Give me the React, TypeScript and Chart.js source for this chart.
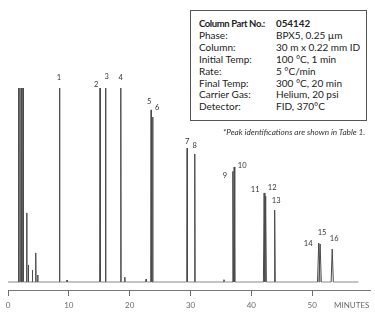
import React, { useEffect, useRef } from 'react';
import { Chart, registerables } from 'chart.js';

Chart.register(...registerables);

// ---- Data ----
const peakNumbers = ['1', '2', '3', '4', '5', '6', '7', '8', '9', '10', '11', '12', '13', '14', '15', '16'];
const peakTimes = [8.47, 15.13, 16.04, 18.54, 23.52, 23.77, 29.44, 30.7, 36.96, 37.17, 42.1, 42.35, 43.83, 51.07, 51.3, 53.29];
const peakHeights = [100, 100, 100, 100, 88.7, 85, 69, 66, 57, 59.3, 45.9, 44.3, 37.1, 20.1, 19.6, 17];
const peakHalfWidths = [0.05, 0.05, 0.05, 0.05, 0.06, 0.06, 0.06, 0.06, 0.1, 0.1, 0.12, 0.12, 0.1, 0.2, 0.2, 0.18];

const solventTimes = [1.73, 1.97, 2.22, 2.47];
const solventHeights = [100, 100, 100, 100];

const minorTimes = [3.07, 3.34, 4.0, 4.56, 4.88, 9.7, 19.2, 22.7, 35.5];
const minorHeights = [35.6, 8.8, 6.2, 15, 3.6, 1, 2.5, 1.5, 1.2];

const runEnd = 57.6;
const xTickValues = [0, 10, 20, 30, 40, 50];
const axisTitle = 'MINUTES';

const tableLabels = ['Column Part No.:', 'Phase:', 'Column:', 'Initial Temp:', 'Rate:', 'Final Temp:', 'Carrier Gas:', 'Detector:'];
const tableValues = ['054142', 'BPX5, 0.25 µm', '30 m x 0.22 mm ID', '100 °C, 1 min', '5 °C/min', '300 °C, 20 min', 'Helium, 20 psi', 'FID, 370°C'];
const footnote = '*Peak identifications are shown in Table 1.';

// ---- Styling (not data) ----
const labelOffsets: [number, number][] = [
  [-0.5, -10], [-4, -3], [1, -11], [0, -10], [-2, -8], [4.5, -10], [0, -7], [0, -8],
  [-8, 4], [8, -1], [-9, -3], [6.5, -8], [1.5, -9], [-10.5, 1], [2, -11], [2, -10],
];
const FONT = 'Lato, "Open Sans", "Liberation Sans", sans-serif';

function buildTrace() {
  const peaks: { t: number; h: number; w: number }[] = [];
  solventTimes.forEach((t, i) => peaks.push({ t, h: solventHeights[i], w: 0.05 }));
  minorTimes.forEach((t, i) => peaks.push({ t, h: minorHeights[i], w: 0.05 }));
  peakTimes.forEach((t, i) => peaks.push({ t, h: peakHeights[i], w: peakHalfWidths[i] }));
  peaks.sort((a, b) => a.t - b.t);
  const pts: { x: number; y: number }[] = [{ x: 0, y: 0 }];
  peaks.forEach((p) => {
    pts.push({ x: p.t - p.w, y: 0 });
    pts.push({ x: p.t, y: p.h });
    pts.push({ x: p.t + p.w, y: 0 });
  });
  pts.push({ x: runEnd, y: 0 });
  return pts;
}

const peakLabelPlugin = {
  id: 'peakLabels',
  afterDatasetsDraw(chart: any) {
    const { ctx, scales } = chart;
    ctx.save();
    ctx.font = `7.5px ${FONT}`;
    ctx.fillStyle = '#333';
    ctx.textAlign = 'center';
    ctx.textBaseline = 'middle';
    peakNumbers.forEach((n, i) => {
      const x = scales.x.getPixelForValue(peakTimes[i]) + labelOffsets[i][0];
      const y = scales.y.getPixelForValue(peakHeights[i]) + labelOffsets[i][1];
      ctx.fillText(n, x, y);
    });
    ctx.restore();
  },
};

export default function App() {
  const canvasRef = useRef<HTMLCanvasElement | null>(null);

  useEffect(() => {
    if (!canvasRef.current) return;
    const chart = new Chart(canvasRef.current, {
      type: 'scatter',
      data: {
        datasets: [
          {
            data: buildTrace(),
            showLine: true,
            borderColor: '#4a4a4a',
            borderWidth: 1,
            pointRadius: 0,
            tension: 0,
            clip: false,
            segment: {
              borderColor: (c: any) =>
                c.p0.parsed.y === 0 && c.p1.parsed.y === 0 ? '#8a8a8a' : '#4a4a4a',
            },
          } as any,
        ],
      },
      options: {
        responsive: false,
        animation: false,
        layout: { padding: { top: 88, left: 8, right: 5, bottom: 0 } },
        plugins: { legend: { display: false }, tooltip: { enabled: false } },
        scales: {
          x: {
            type: 'linear',
            min: 0,
            max: 59.5,
            afterBuildTicks: (scale: any) => {
              scale.ticks = [...xTickValues, 56.5].map((v) => ({ value: v }));
            },
            afterFit: (scale: any) => {
              scale.height = 28;
            },
            ticks: {
              autoSkip: false,
              maxRotation: 0,
              padding: 5,
              color: '#6a6a6a',
              font: { size: 8, family: FONT },
              callback: (_v: any, i: number) => (i === xTickValues.length ? axisTitle : String(xTickValues[i])),
            },
            grid: {
              drawOnChartArea: false,
              drawTicks: true,
              tickLength: 6,
              tickColor: (c: any) => (c.index === xTickValues.length ? 'rgba(0,0,0,0)' : '#6a6a6a'),
            },
            border: { display: true, color: '#777', width: 1 },
          },
          y: {
            display: false,
            min: -4.12,
            max: 100,
          },
        },
      },
      plugins: [peakLabelPlugin],
    });
    return () => chart.destroy();
  }, []);

  return (
    <div style={{ position: 'absolute', left: 0, top: 0, width: 375, height: 318, background: '#fff', fontFamily: FONT }}>
      <canvas ref={canvasRef} width={375} height={318} style={{ width: 375, height: 318, display: 'block' }} />
      <div
        style={{
          position: 'absolute',
          left: 190,
          top: 10,
          width: 175,
          height: 102,
          border: '1px solid #555',
          background: '#fff',
          boxSizing: 'content-box',
          paddingTop: 7,
          color: '#222',
          fontSize: 10,
          lineHeight: '11.9px',
        }}
      >
        {tableLabels.map((l, i) => (
          <div key={i} style={{ display: 'flex', whiteSpace: 'nowrap' }}>
            <span
              style={{
                width: 85,
                paddingLeft: 8,
                boxSizing: 'border-box',
                fontWeight: i === 0 ? 700 : 400,
                fontSize: i === 0 ? 9.5 : 10,
                letterSpacing: i === 0 ? -0.4 : 0,
              }}
            >
              {l}
            </span>
            <span style={{ fontWeight: i === 0 ? 700 : 400, fontSize: i === 0 ? 9.8 : 10 }}>{tableValues[i]}</span>
          </div>
        ))}
      </div>
      <div
        style={{
          position: 'absolute',
          left: 223,
          top: 127,
          fontSize: 8.2,
          fontStyle: 'italic',
          color: '#333',
          whiteSpace: 'nowrap',
        }}
      >
        {footnote}
      </div>
    </div>
  );
}
